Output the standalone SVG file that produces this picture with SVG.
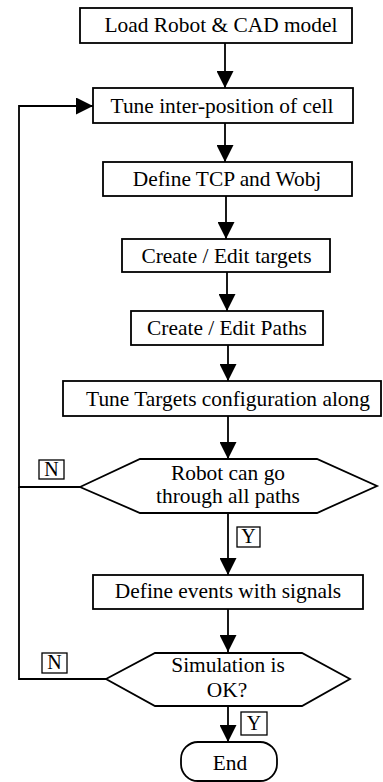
<svg xmlns="http://www.w3.org/2000/svg" width="383" height="782" viewBox="0 0 383 782">
<defs>
<style>
.n{fill:#fff;stroke:#000;stroke-width:1.8}
.t{font-size:21.4px;fill:#000;text-anchor:middle}
.c{fill:none;stroke:#000;stroke-width:1.8}
.lb{fill:#fff;stroke:#000;stroke-width:1.3}
.lt{font-size:20px;fill:#000;text-anchor:middle}
</style>
<marker id="ah" markerUnits="userSpaceOnUse" markerWidth="17" markerHeight="17" viewBox="0 0 17 17" refX="17" refY="8.5" orient="auto">
<path d="M0,0 L17,8.5 L0,17 Z" fill="#000"/>
</marker>
</defs>
<rect width="383" height="782" fill="#fff"/>
<g id="connectors">
<path class="c" d="M225,43 V88" marker-end="url(#ah)"/>
<path class="c" d="M225,123 V162" marker-end="url(#ah)"/>
<path class="c" d="M226,196 V239" marker-end="url(#ah)"/>
<path class="c" d="M227,272 V311" marker-end="url(#ah)"/>
<path class="c" d="M228,345 V381" marker-end="url(#ah)"/>
<path class="c" d="M228,416 V459" marker-end="url(#ah)"/>
<path class="c" d="M228,513 V575" marker-end="url(#ah)"/>
<path class="c" d="M228,609 V652" marker-end="url(#ah)"/>
<path class="c" d="M228,706 V742" marker-end="url(#ah)"/>
<path class="c" d="M80,487 H19 V106 H93" marker-end="url(#ah)"/>
<path class="c" d="M106,679 H19 V487"/>
</g>
<g font-family="Liberation Serif, Times New Roman, DejaVu Serif, serif">
<g id="load">
<rect class="n" x="80" y="8" width="272" height="35"/>
<text class="t" x="221" y="32">Load Robot &amp; CAD model</text>
</g>
<g id="tune-inter">
<rect class="n" x="93" y="88" width="260" height="35"/>
<text class="t" x="222" y="113">Tune inter-position of cell</text>
</g>
<g id="define-tcp">
<rect class="n" x="103" y="162" width="249" height="34"/>
<text class="t" x="227" y="186">Define TCP and Wobj</text>
</g>
<g id="create-targets">
<rect class="n" x="122" y="239" width="208" height="33"/>
<text class="t" x="226.5" y="263">Create / Edit targets</text>
</g>
<g id="create-paths">
<rect class="n" x="131" y="311" width="192" height="34"/>
<text class="t" x="227" y="335">Create / Edit Paths</text>
</g>
<g id="tune-targets">
<rect class="n" x="63" y="381" width="318" height="35"/>
<text class="t" x="228" y="406">Tune Targets configuration along</text>
</g>
<g id="robot-can-go">
<polygon class="n" points="80,487 140,459 317,459 377,486 317,513 140,513"/>
<text class="t" x="228" y="480">Robot can go</text>
<text class="t" x="228" y="503">through all paths</text>
</g>
<g id="define-events">
<rect class="n" x="93" y="575" width="270" height="34"/>
<text class="t" x="228" y="598">Define events with signals</text>
</g>
<g id="simulation-ok">
<polygon class="n" points="106,679 155,653 302,653 350,679 302,706 155,706"/>
<text class="t" x="228" y="672">Simulation is</text>
<text class="t" x="227" y="697">OK?</text>
</g>
<g id="end">
<rect class="n" x="181" y="742" width="96" height="39" rx="17" ry="17"/>
<text class="t" x="230" y="770">End</text>
</g>
<g id="labels">
<rect class="lb" x="39" y="460" width="25" height="19"/>
<text class="lt" x="51.5" y="476">N</text>
<rect class="lb" x="237" y="527" width="23" height="20"/>
<text class="lt" x="248.5" y="543">Y</text>
<rect class="lb" x="42" y="653" width="25" height="20"/>
<text class="lt" x="54.5" y="669">N</text>
<rect class="lb" x="241" y="712" width="26" height="23"/>
<text class="lt" x="254" y="730">Y</text>
</g>
</g>
</svg>
